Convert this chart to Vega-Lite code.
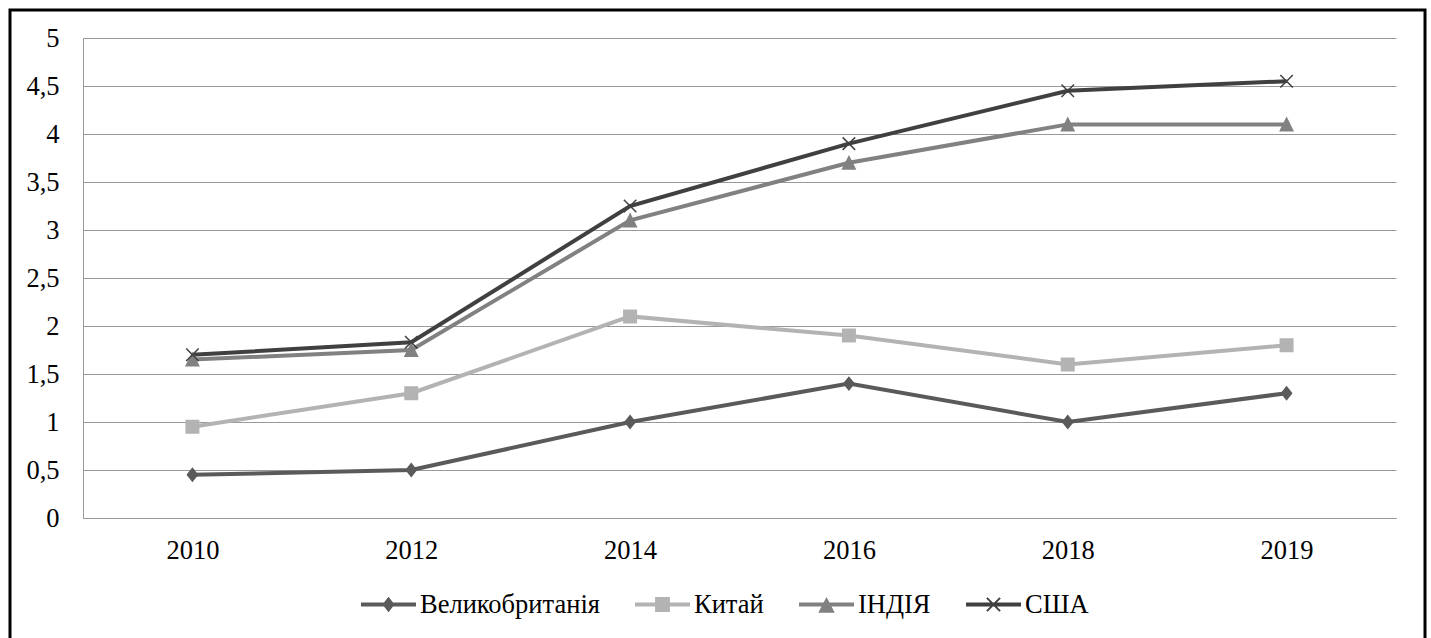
{
  "$schema": "https://vega.github.io/schema/vega-lite/v6.json",
  "width": 1415,
  "height": 632,
  "autosize": {"type": "none"},
  "padding": {"left": 10, "top": 10, "right": 6, "bottom": -4},
  "background": "#ffffff",
  "config": {
    "view": {"stroke": "#000000", "strokeWidth": 3},
    "font": "'Liberation Serif', 'Times New Roman', serif"
  },
  "data": {
    "values": [
      {"year": "2010", "country": "Великобританія", "value": 0.45},
      {"year": "2012", "country": "Великобританія", "value": 0.5},
      {"year": "2014", "country": "Великобританія", "value": 1.0},
      {"year": "2016", "country": "Великобританія", "value": 1.4},
      {"year": "2018", "country": "Великобританія", "value": 1.0},
      {"year": "2019", "country": "Великобританія", "value": 1.3},
      {"year": "2010", "country": "Китай", "value": 0.95},
      {"year": "2012", "country": "Китай", "value": 1.3},
      {"year": "2014", "country": "Китай", "value": 2.1},
      {"year": "2016", "country": "Китай", "value": 1.9},
      {"year": "2018", "country": "Китай", "value": 1.6},
      {"year": "2019", "country": "Китай", "value": 1.8},
      {"year": "2010", "country": "ІНДІЯ", "value": 1.65},
      {"year": "2012", "country": "ІНДІЯ", "value": 1.75},
      {"year": "2014", "country": "ІНДІЯ", "value": 3.1},
      {"year": "2016", "country": "ІНДІЯ", "value": 3.7},
      {"year": "2018", "country": "ІНДІЯ", "value": 4.1},
      {"year": "2019", "country": "ІНДІЯ", "value": 4.1},
      {"year": "2010", "country": "США", "value": 1.7},
      {"year": "2012", "country": "США", "value": 1.83},
      {"year": "2014", "country": "США", "value": 3.25},
      {"year": "2016", "country": "США", "value": 3.9},
      {"year": "2018", "country": "США", "value": 4.45},
      {"year": "2019", "country": "США", "value": 4.55}
    ]
  },
  "encoding": {
    "x": {
      "field": "year", "type": "ordinal", "sort": null,
      "scale": {"type": "point", "padding": 0.5, "range": [73, 1386]},
      "axis": {
        "title": null, "orient": "bottom", "offset": -124, "labelAngle": 0,
        "ticks": false, "tickSize": 0, "grid": false,
        "domainColor": "#999999", "domainWidth": 1,
        "labelFont": "'Liberation Serif', 'Times New Roman', serif", "labelFontSize": 26.5, "labelColor": "#000000",
        "labelPadding": 19
      }
    },
    "y": {
      "field": "value", "type": "quantitative",
      "scale": {"domain": [0, 5], "range": [508, 28], "nice": false, "zero": true},
      "axis": {
        "title": null, "orient": "left", "offset": -73,
        "values": [0, 0.5, 1, 1.5, 2, 2.5, 3, 3.5, 4, 4.5, 5],
        "labelExpr": "replace(format(datum.value, '~g'), '.', ',')",
        "ticks": false, "tickSize": 0, "grid": true,
        "gridColor": "#999999", "gridWidth": 1,
        "domainColor": "#999999", "domainWidth": 1,
        "labelFont": "'Liberation Serif', 'Times New Roman', serif", "labelFontSize": 26.5, "labelColor": "#000000",
        "labelPadding": 24
      }
    }
  },
  "layer": [
    {
      "mark": {"type": "line", "strokeWidth": 4},
      "encoding": {
        "stroke": {
          "field": "country", "type": "nominal",
          "scale": {"domain": ["Великобританія", "Китай", "ІНДІЯ", "США"], "range": ["#5a5a5a", "#b3b3b3", "#818181", "#404040"]},
          "legend": null
        }
      }
    },
    {
      "mark": {"type": "point", "filled": true, "strokeWidth": 1.5, "size": 156, "opacity": 1},
      "encoding": {
        "fill": {
          "field": "country", "type": "nominal",
          "scale": {"domain": ["Великобританія", "Китай", "ІНДІЯ", "США"], "range": ["#5a5a5a", "#b3b3b3", "#818181", "#404040"]},
          "legend": null
        },
        "stroke": {
          "field": "country", "type": "nominal",
          "scale": {"domain": ["Великобританія", "Китай", "ІНДІЯ", "США"], "range": ["#5a5a5a", "#b3b3b3", "#818181", "#404040"]},
          "legend": null
        },
        "shape": {
          "field": "country", "type": "nominal",
          "scale": {
            "domain": ["Великобританія", "Китай", "ІНДІЯ", "США"],
            "range": ["M0,-1L0.8,0L0,1L-0.8,0Z", "M-1,-1H1V1H-1Z", "M0,-1L1,1L-1,1Z", "M-1,-1L1,1M-1,1L1,-1"]
          },
          "legend": null
        }
      }
    },
    {
      "mark": {"type": "point", "filled": true, "size": 0},
      "encoding": {
        "color": {
          "field": "country", "type": "nominal",
          "scale": {"domain": ["Великобританія", "Китай", "ІНДІЯ", "США"], "range": ["#5a5a5a", "#b3b3b3", "#818181", "#404040"]},
          "legend": {
            "title": null, "orient": "none", "direction": "horizontal", "legendX": 350, "legendY": 566,
            "symbolSize": 3025, "symbolOpacity": 1, "labelFont": "'Liberation Serif', 'Times New Roman', serif", "labelFontSize": 26.5,
            "labelColor": "#000000", "labelOffset": 3, "columnPadding": 32, "padding": 0, "labelLimit": 0
          }
        },
        "shape": {
          "field": "country", "type": "nominal",
          "scale": {
            "domain": ["Великобританія", "Китай", "ІНДІЯ", "США"],
            "range": [
              "M-1,-0.075H1V0.075H-1Z M0,-0.28L0.22,0L0,0.28L-0.22,0Z",
              "M-1,-0.075H1V0.075H-1Z M-0.27,-0.27H0.27V0.27H-0.27Z",
              "M-1,-0.075H1V0.075H-1Z M0,-0.27L0.3,0.3L-0.3,0.3Z",
              "M-1,-0.075H1V0.075H-1Z M-0.215,-0.265L0.265,0.215L0.215,0.265L-0.265,-0.215Z M-0.265,0.215L0.215,-0.265L0.265,-0.215L-0.215,0.265Z"
            ]
          },
          "legend": {
            "title": null, "orient": "none", "direction": "horizontal", "legendX": 350, "legendY": 566,
            "symbolSize": 3025, "symbolOpacity": 1, "labelFont": "'Liberation Serif', 'Times New Roman', serif", "labelFontSize": 26.5,
            "labelColor": "#000000", "labelOffset": 3, "columnPadding": 32, "padding": 0, "labelLimit": 0
          }
        }
      }
    }
  ],
  "resolve": {
    "scale": {"color": "independent", "fill": "independent", "stroke": "independent", "shape": "independent"}
  }
}
